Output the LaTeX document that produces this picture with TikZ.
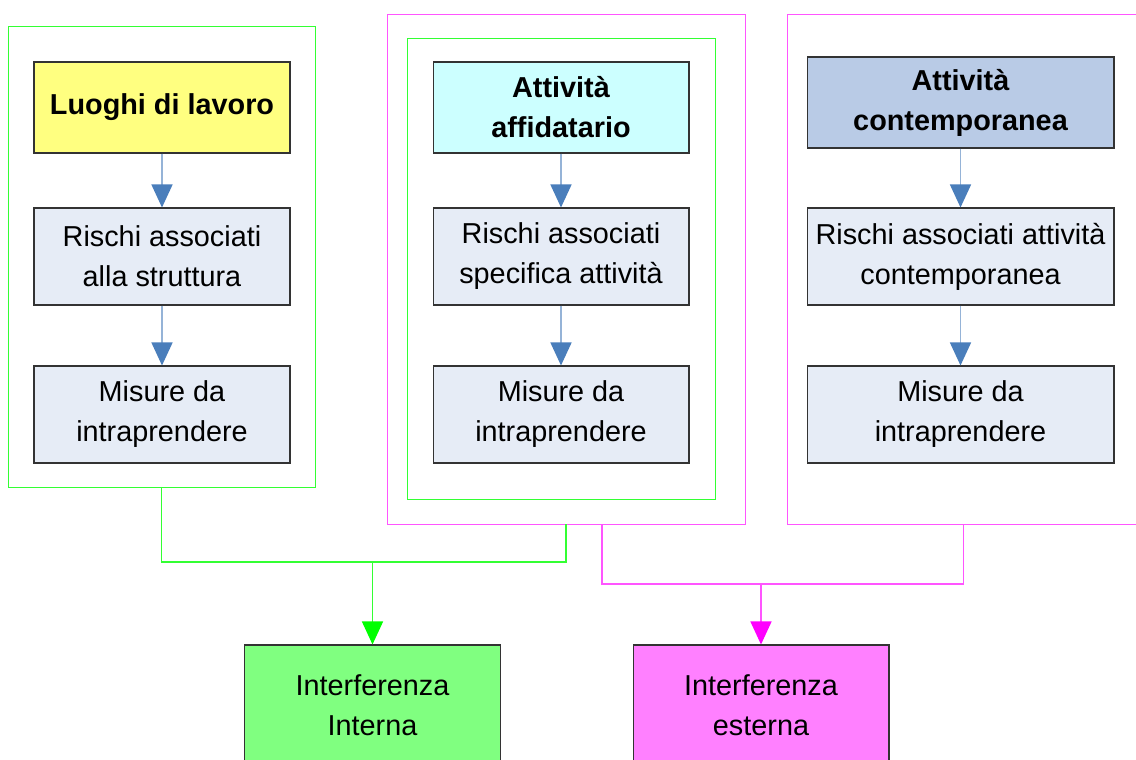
\documentclass[tikz,border=0pt]{standalone}
\usepackage{fontspec}
\setmainfont{Liberation Sans}
\usetikzlibrary{arrows.meta}
\definecolor{lineg}{HTML}{33FF33}
\definecolor{linem}{HTML}{FF55FF}
\definecolor{headg}{HTML}{00FF00}
\definecolor{headm}{HTML}{FF00FF}
\definecolor{arrowblue}{HTML}{4A7EBB}
\definecolor{shaftblue}{HTML}{95B3D7}
\definecolor{fillyellow}{HTML}{FFFF80}
\definecolor{fillcyan}{HTML}{CCFFFF}
\definecolor{fillsteel}{HTML}{B9CBE6}
\definecolor{fillpale}{HTML}{E6ECF6}
\definecolor{fillgreen}{HTML}{80FF80}
\definecolor{fillpink}{HTML}{FF80FF}
\begin{document}
\begin{tikzpicture}[x=0.02cm,y=-0.02cm,
  box/.style={draw=black!80,line width=0.6pt,align=center,inner sep=0pt,
    font=\fontsize{16.4}{22.8}\selectfont},
  head/.style={box,fill=#1,minimum height=1.82cm,font=\fontsize{16.4}{22.8}\selectfont\bfseries},
  stepbox/.style={box,fill=fillpale,minimum height=1.94cm},
  result/.style={box,fill=#1,minimum width=5.12cm,minimum height=2.4cm},
  gframe/.style={draw=lineg,line width=0.5pt,inner sep=0pt,minimum height=9.22cm},
  mframe/.style={draw=linem,line width=0.5pt,inner sep=0pt,minimum height=10.2cm},
  flow/.style={draw=shaftblue,line width=0.8pt,-{Triangle[width=0.42cm,length=0.46cm,color=arrowblue]}},
  glink/.style={draw=lineg,line width=0.7pt},
  mlink/.style={draw=linem,line width=0.7pt}]
  \useasboundingbox (0,0) rectangle (1136,760);

  % frames
  \node[gframe,minimum width=6.14cm] (frameA) at (161.5,256.5) {};
  \node[mframe,minimum width=7.16cm] (frameM) at (566,269) {};
  \node[gframe,minimum width=6.16cm] (frameB) at (561,268.5) {};
  \node[mframe,minimum width=7.06cm] (frameC) at (963.5,269) {};

  % luoghi di lavoro
  \node[head=fillyellow,minimum width=5.12cm] (luoghi) at (162,107.5) {Luoghi di lavoro};
  \node[stepbox,minimum width=5.12cm] (rischiA) at (162,256.5) {Rischi associati\\alla struttura};
  \node[stepbox,minimum width=5.12cm] (misureA) at (162,414.5) {Misure da\\intraprendere};

  % attivita affidatario
  \node[head=fillcyan,minimum width=5.12cm] (affid) at (561,107.5) {Attività\\affidatario};
  \node[stepbox,minimum width=5.12cm] (rischiB) at (561,256.5) {Rischi associati\\specifica attività};
  \node[stepbox,minimum width=5.12cm] (misureB) at (561,414.5) {Misure da\\intraprendere};

  % attivita contemporanea
  \node[head=fillsteel,minimum width=6.14cm] (contemp) at (960.5,102.5) {Attività\\contemporanea};
  \node[stepbox,minimum width=6.14cm] (rischiC) at (960.5,256.5) {Rischi associati attività\\contemporanea};
  \node[stepbox,minimum width=6.14cm] (misureC) at (960.5,414.5) {Misure da\\intraprendere};

  \draw[flow] (luoghi) -- (rischiA);
  \draw[flow] (rischiA) -- (misureA);
  \draw[flow] (affid) -- (rischiB);
  \draw[flow] (rischiB) -- (misureB);
  \draw[flow] (contemp) -- (rischiC);
  \draw[flow] (rischiC) -- (misureC);

  % interferenze
  \node[result=fillgreen] (interna) at (372.5,705) {Interferenza\\Interna};
  \node[result=fillpink] (esterna) at (761,705) {Interferenza\\esterna};

  \coordinate (jg) at (372.5,562);
  \coordinate (jm) at (761,584);
  \draw[glink] (frameA.south) |- (jg);
  \draw[glink] (frameM.south) |- (jg);
  \draw[glink,-{Triangle[width=0.42cm,length=0.46cm,color=headg]}] (jg) -- (interna.north);
  \draw[mlink] ([xshift=0.72cm]frameM.south) |- (jm);
  \draw[mlink] (frameC.south) |- (jm);
  \draw[mlink,-{Triangle[width=0.42cm,length=0.46cm,color=headm]}] (jm) -- (esterna.north);
\end{tikzpicture}
\end{document}
